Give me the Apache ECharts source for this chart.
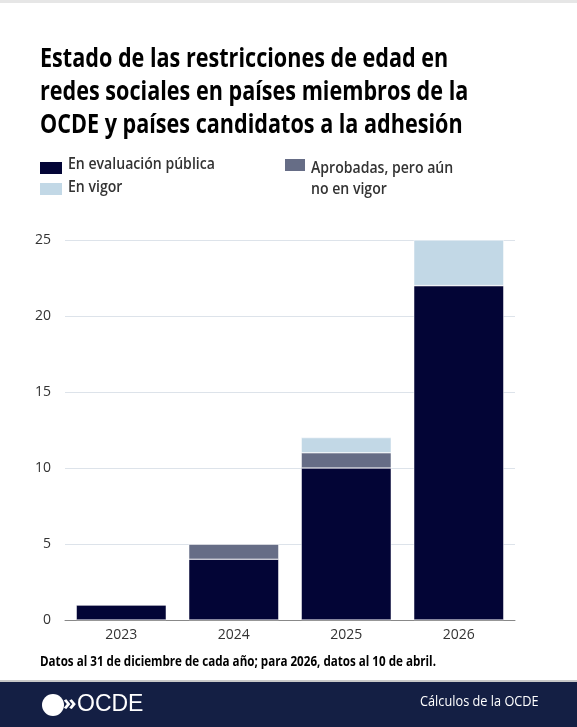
<!DOCTYPE html>
<html><head><meta charset="utf-8">
<script src="https://cdn.jsdelivr.net/npm/echarts@6/dist/echarts.min.js"></script>
<style>html,body{margin:0;padding:0;background:#fff}#c{width:577px;height:727px}</style>
</head><body><div id="c"></div>
<script>
const categories = ['2023','2024','2025','2026'];
const enEvaluacion = [1,4,10,22];
const aprobadas = [0,1,1,0];
const enVigor = [0,0,1,3];
const yTicks = [0,5,10,15,20,25];
const F = '"Open Sans",sans-serif';
const chart = echarts.init(document.getElementById('c'));
function t(x,y,text,font,sx,extra){return Object.assign({type:'text',x:x,y:y,scaleX:sx,style:{text:text,font:font,fill:'#333'}},extra||{});}
chart.setOption({
  animation:false,
  grid:{left:65,right:62,top:240,bottom:107},
  xAxis:{type:'category',data:categories,axisTick:{show:false},
    axisLine:{lineStyle:{color:'#888',width:1}},
    axisLabel:{color:'#333',fontFamily:F,fontSize:14,margin:8}},
  yAxis:{type:'value',min:0,max:25,interval:5,
    axisLabel:{color:'#333',fontFamily:F,fontSize:14,margin:14,
      formatter:v=>yTicks.includes(v)?String(v):''},
    splitLine:{lineStyle:{color:'#dde3ea'}}},
  series:[
    {name:'En evaluación pública',type:'bar',stack:'a',data:enEvaluacion,barWidth:'80%',itemStyle:{color:'#030536',borderColor:'#fff',borderWidth:0.5}},
    {name:'Aprobadas, pero aún no en vigor',type:'bar',stack:'a',data:aprobadas,itemStyle:{color:'#666d86',borderColor:'#fff',borderWidth:0.5}},
    {name:'En vigor',type:'bar',stack:'a',data:enVigor,itemStyle:{color:'#c2d8e6',borderColor:'#fff',borderWidth:0.5}}
  ],
  graphic:[
    {type:'rect',shape:{x:0,y:0,width:577,height:3},style:{fill:'#e6e6e6'}},
    {type:'text',x:40,y:43,scaleX:0.8,style:{text:'Estado de las restricciones de edad en\nredes sociales en países miembros de la\nOCDE y países candidatos a la adhesión',
      font:'bold 27px '+F,fill:'#000',lineHeight:33}},
    {type:'rect',shape:{x:40,y:162,width:22,height:12},style:{fill:'#030536'}},
    t(68,156,'En evaluación pública','600 16px '+F,0.88),
    {type:'rect',shape:{x:40,y:183,width:22,height:12},style:{fill:'#c2d8e6'}},
    t(68,179,'En vigor','600 16px '+F,0.88),
    {type:'rect',shape:{x:285,y:159,width:20,height:12},style:{fill:'#666d86'}},
    {type:'text',x:311,y:158,scaleX:0.88,style:{text:'Aprobadas, pero aún\nno en vigor',font:'600 16px '+F,fill:'#333',lineHeight:21}},
    {type:'text',x:40,y:655,scaleX:0.83,style:{text:'Datos al 31 de diciembre de cada año; para 2026, datos al 10 de abril.',font:'bold 14px '+F,fill:'#000'}},
    {type:'rect',shape:{x:0,y:680,width:577,height:2},style:{fill:'#c8c8c8'}},
    {type:'rect',shape:{x:0,y:682,width:577,height:45},style:{fill:'#141f44'}},
    {type:'circle',shape:{cx:53,cy:705,r:11},style:{fill:'#fff'}},
    {type:'text',x:63,y:693,style:{text:'»',font:'bold 22px '+F,fill:'#fff'}},
    {type:'text',x:77,y:693,style:{text:'OCDE',font:'23px "Liberation Sans",sans-serif',fill:'#fff'}},
    {type:'text',x:420,y:694,scaleX:0.85,style:{text:'Cálculos de la OCDE',font:'15px '+F,fill:'#fff'}}
  ]
});
</script></body></html>
